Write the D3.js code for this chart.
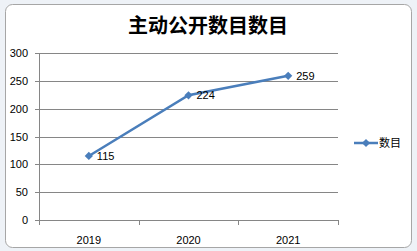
<!DOCTYPE html>
<html lang="zh">
<head>
<meta charset="UTF-8">
<title>主动公开数目</title>
<script src="https://cdn.jsdelivr.net/npm/d3@7"></script>
<style>
  html, body { margin: 0; padding: 0; background: #fff; }
  svg { display: block; }
  .axis text { font: 11px "Liberation Sans", "DejaVu Sans", sans-serif; fill: #000; }
  .axis path, .axis line { stroke: #868686; shape-rendering: crispEdges; }
  .grid line { stroke: #868686; shape-rendering: crispEdges; }
</style>
</head>
<body>
<svg id="chart" width="417" height="251"></svg>
<script>
// data
var years = ["2019", "2020", "2021"];
var counts = [115, 224, 259];
var yTicks = [0, 50, 100, 150, 200, 250, 300];
var seriesName = "数目";
var title = "主动公开数目数目";

var svg = d3.select("#chart"),
    W = +svg.attr("width"),
    H = +svg.attr("height");

var margin = { top: 53, right: 79, bottom: 31, left: 39 },
    width = W - margin.left - margin.right,
    height = H - margin.top - margin.bottom;

var blue = "#4a7ebb";

// sheet background + chart frame
svg.append("rect").attr("width", W).attr("height", H).attr("fill", "#eef2f7");
svg.append("rect")
    .attr("x", 5.5).attr("y", 4.5)
    .attr("width", W - 11).attr("height", H - 8)
    .attr("rx", 7)
    .attr("fill", "#fff")
    .attr("stroke", "#a6a6a6");

svg.append("text")
    .attr("x", 208).attr("y", 33)
    .attr("text-anchor", "middle")
    .style("font", "bold 20px 'Noto Sans CJK SC', sans-serif")
    .text(title);

var x = d3.scaleBand().domain(years).range([0, width]);
var y = d3.scaleLinear().domain([0, 300]).range([height, 0]);

var g = svg.append("g")
    .attr("transform", "translate(" + margin.left + "," + margin.top + ")");

// gridlines
g.append("g").attr("class", "grid")
    .selectAll("line")
    .data(yTicks.slice(1))
    .enter().append("line")
    .attr("x1", -4).attr("x2", width)
    .attr("y1", d => Math.round(y(d)) + 0.5)
    .attr("y2", d => Math.round(y(d)) + 0.5);

g.append("g")
    .attr("class", "axis")
    .call(d3.axisLeft(y).tickValues(yTicks).tickSize(4).tickPadding(7))
    .call(a => a.select(".domain").attr("d", "M0.5," + height + "V0"));

var xAxis = g.append("g")
    .attr("class", "axis")
    .attr("transform", "translate(0," + height + ")")
    .call(d3.axisBottom(x).tickSize(0).tickPadding(16));
xAxis.select(".domain").attr("d", "M0,0.5H" + width);
xAxis.selectAll(".bd")
    .data(d3.range(years.length + 1))
    .enter().append("line")
    .attr("x1", d => Math.round(d * x.step()) + 0.5)
    .attr("x2", d => Math.round(d * x.step()) + 0.5)
    .attr("y1", 0).attr("y2", 5);

var pts = years.map((k, i) => ({ key: k, value: counts[i] }));
var cx = d => x(d.key) + x.bandwidth() / 2;

g.append("path")
    .datum(pts)
    .attr("fill", "none")
    .attr("stroke", blue)
    .attr("stroke-width", 2.5)
    .attr("d", d3.line().x(cx).y(d => y(d.value)));

// excel-style diamond: square turned 45 degrees
var diamond = d3.symbol().type(d3.symbolSquare).size(34);

g.selectAll(".pt")
    .data(pts)
    .enter().append("path")
    .attr("fill", blue)
    .attr("d", diamond)
    .attr("transform", d => "translate(" + cx(d) + "," + y(d.value) + ") rotate(45)");

g.selectAll(".lbl")
    .data(pts)
    .enter().append("text")
    .attr("x", d => cx(d) + 8)
    .attr("y", d => y(d.value) + 4)
    .style("font", "11px 'Liberation Sans', 'DejaVu Sans', sans-serif")
    .text(d => d.value);

// legend
var lg = svg.append("g").attr("transform", "translate(354,143)");
lg.append("line").attr("x1", 0).attr("x2", 24).attr("y1", 0).attr("y2", 0)
    .attr("stroke", blue).attr("stroke-width", 2.5);
lg.append("path").attr("d", diamond).attr("fill", blue).attr("transform", "translate(12,0) rotate(45)");
lg.append("text").attr("x", 25).attr("y", 4)
    .style("font", "11px 'Noto Sans CJK SC', sans-serif")
    .text(seriesName);
</script>
</body>
</html>
